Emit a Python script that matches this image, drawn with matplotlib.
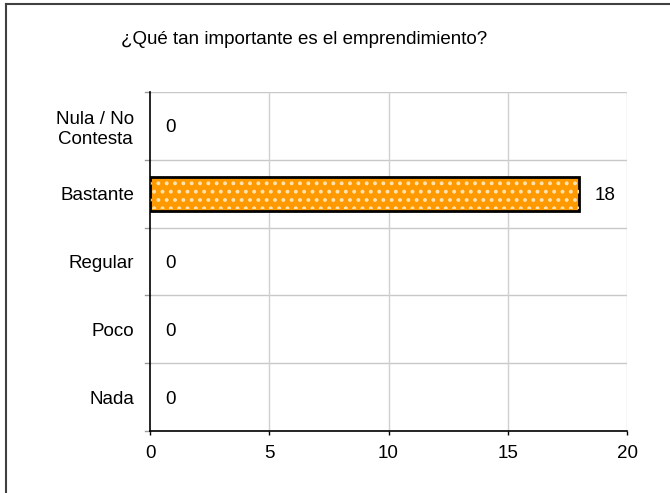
import matplotlib
matplotlib.use('Agg')
import matplotlib.pyplot as plt
from matplotlib.lines import Line2D

plt.rcParams['font.family'] = ['Liberation Sans', 'DejaVu Sans']
plt.rcParams['hatch.linewidth'] = 1.6

categories = ['Nula / No\nContesta', 'Bastante', 'Regular', 'Poco', 'Nada']
values = [0, 18, 0, 0, 0]
x_ticks = [0, 5, 10, 15, 20]
title = '¿Qué tan importante es el emprendimiento?'

W, H = 670, 493
FS = 13.5
fig = plt.figure(figsize=(W / 100, H / 100), dpi=100)
ax = fig.add_axes([150 / W, 1 - 431 / H, (627 - 150) / W, (431 - 92) / H])

ypos = list(range(len(categories)))
bar_y = [y for y, v in zip(ypos, values) if v > 0]
bar_v = [v for v in values if v > 0]
# base fill with black border, then a light dotted hatch on top
ax.barh(bar_y, bar_v, height=0.5, color='#FF9900', edgecolor='black', linewidth=2, zorder=3)
ax.barh(bar_y, bar_v, height=0.46, color='none', edgecolor='#FFE2B0', hatch='..', linewidth=0, zorder=3)

for y, v in zip(ypos, values):
    ax.annotate(str(v), (v, y), xytext=(11, -1.5), textcoords='offset points',
                va='center', ha='left', fontsize=FS)

ax.set_xlim(0, 20)
ax.set_ylim(len(categories) - 0.5, -0.5)
ax.set_xticks(x_ticks)
ax.set_xticklabels([str(t) for t in x_ticks], fontsize=FS)
ax.set_yticks(ypos)
ax.set_yticklabels(categories, fontsize=FS, multialignment='center')
ax.tick_params(axis='y', length=0, pad=11.5)
ax.tick_params(axis='x', length=3, width=1, direction='out', pad=7)

# grid lines between categories and at major x ticks
for b in [i - 0.5 for i in range(len(categories) + 1)]:
    ax.axhline(b, color='#c8c8c8', lw=1, zorder=1)
    ax.plot([-0.2, 0], [b, b], color='#999999', lw=1, clip_on=False, zorder=2)
for t in x_ticks[1:]:
    ax.axvline(t, color='#d0d0d0', lw=1, zorder=1)

for s in ['top', 'right']:
    ax.spines[s].set_visible(False)
ax.spines['left'].set_linewidth(1.2)
ax.spines['bottom'].set_linewidth(1.2)
ax.spines['left'].set_zorder(4)

fig.text(304 / W, 1 - 40 / H, title, ha='center', va='center', fontsize=FS)

# outer frame (only left and top edges visible)
fig.add_artist(Line2D([6 / W, 6 / W], [0, 1 - 4 / H], color='#404040', lw=1.5, transform=fig.transFigure))
fig.add_artist(Line2D([6 / W, 1], [1 - 4 / H, 1 - 4 / H], color='#404040', lw=1.5, transform=fig.transFigure))

fig.savefig('out.png', dpi=100)
